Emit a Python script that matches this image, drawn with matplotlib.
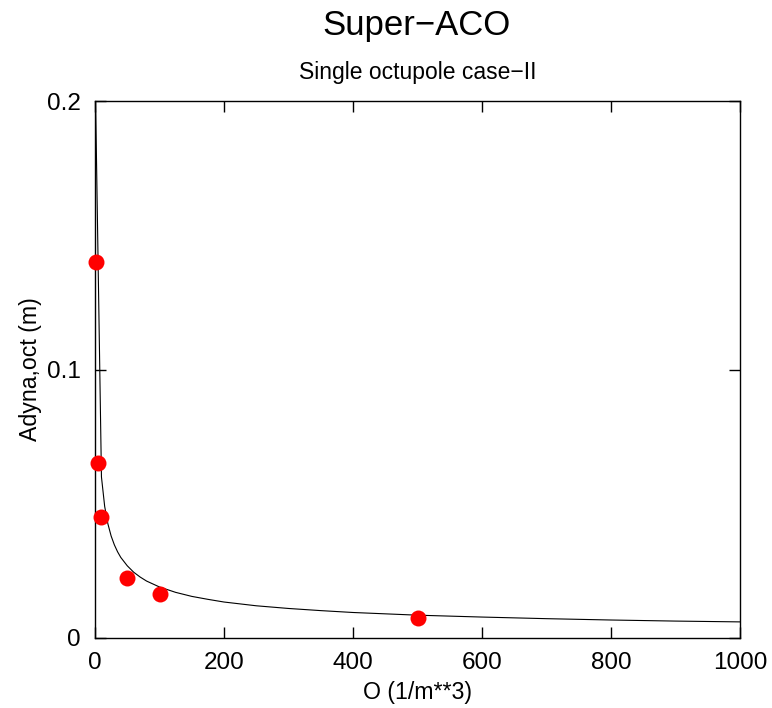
import matplotlib
matplotlib.use("Agg")
import matplotlib.pyplot as plt

# measured points
o_pts = [1, 5, 10, 50, 100, 500]
a_pts = [0.140, 0.065, 0.045, 0.0225, 0.0165, 0.0075]

# fitted curve, values
o_fit = [0.9, 10, 15, 20, 25, 30, 35, 40, 50, 60, 70, 80, 100, 125, 150,
         175, 200, 250, 300, 350, 400, 450, 500, 600, 700, 800, 900, 1000]
a_fit = [0.200, 0.060, 0.0490, 0.0425, 0.0380, 0.0347, 0.0321, 0.0300,
         0.0269, 0.0245, 0.0227, 0.0212, 0.0190, 0.0170, 0.0155, 0.0144,
         0.0134, 0.0120, 0.0110, 0.0102, 0.0095, 0.0090, 0.0085, 0.0078,
         0.0072, 0.0067, 0.0063, 0.0060]

xticks = [0, 200, 400, 600, 800, 1000]
yticks = [0, 0.1, 0.2]
ytick_labels = ["0", "0.1", "0.2"]

plt.rcParams['font.family'] = ['Liberation Sans', 'DejaVu Sans']

fig = plt.figure(figsize=(7.72, 7.08), dpi=100)
ax = fig.add_axes([95 / 772, 1 - 638 / 708, 645 / 772, 537 / 708])

ax.plot(o_fit, a_fit, color='black', lw=0.8)
ax.plot(o_pts, a_pts, 'o', color='red', ms=11.5, mec='none', clip_on=False, zorder=3)

ax.set_xlim(0, 1000)
ax.set_ylim(0, 0.2)
ax.set_xticks(xticks)
ax.set_yticks(yticks)
ax.set_yticklabels(ytick_labels)
ax.tick_params(direction='in', length=8, width=1, top=True, right=True,
               labelsize=17.5, pad=10)
for s in ax.spines.values():
    s.set_linewidth(1)

ax.set_xlabel('O (1/m**3)', fontsize=16.7, labelpad=5)
ax.set_ylabel('Adyna,oct (m)', fontsize=16.7, labelpad=4)

fig.text(416 / 772, 1 - 25 / 708, 'Super\u2212ACO', fontsize=25, ha='center', va='center')
fig.text(418 / 772, 1 - 73 / 708, 'Single octupole case\u2212II', fontsize=16.5,
         ha='center', va='center')

fig.savefig('out.png', dpi=100)
